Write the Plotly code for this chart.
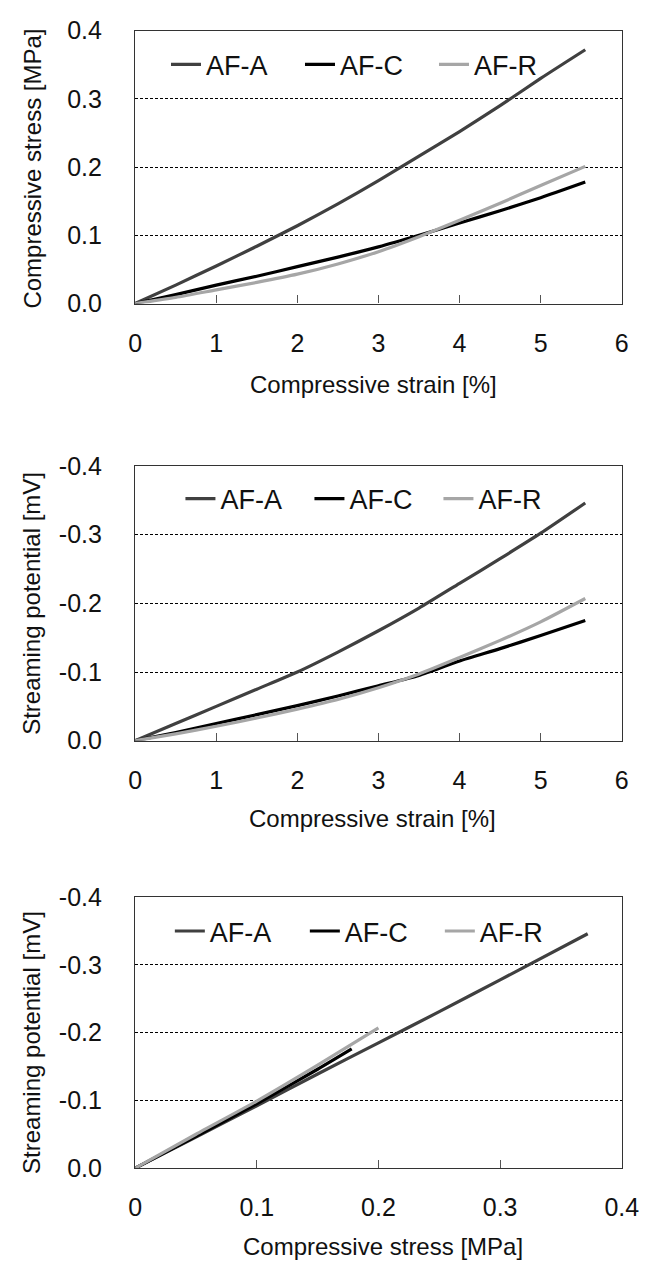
import plotly.graph_objects as go

# ---- data ----
strain = [0, 0.5, 1, 1.5, 2, 2.5, 3, 3.5, 4, 4.5, 5, 5.55]

# panel 1: compressive stress [MPa] vs strain
stress_A = [0, 0.027, 0.055, 0.084, 0.114, 0.146, 0.180, 0.216, 0.252, 0.290, 0.330, 0.372]
stress_C = [0, 0.013, 0.027, 0.040, 0.054, 0.068, 0.083, 0.100, 0.118, 0.136, 0.155, 0.178]
stress_R = [0, 0.009, 0.020, 0.031, 0.043, 0.058, 0.076, 0.098, 0.122, 0.147, 0.173, 0.201]

# panel 2: streaming potential [mV] vs strain
pot_A = [0, -0.025, -0.050, -0.075, -0.100, -0.129, -0.160, -0.193, -0.229, -0.265, -0.302, -0.346]
pot_C = [0, -0.012, -0.025, -0.038, -0.051, -0.065, -0.080, -0.095, -0.116, -0.134, -0.153, -0.175]
pot_R = [0, -0.010, -0.021, -0.033, -0.046, -0.060, -0.077, -0.097, -0.121, -0.146, -0.173, -0.207]

# panel 3: streaming potential [mV] vs compressive stress [MPa]
p3_stress_A = [0, 0.05, 0.10, 0.15, 0.20, 0.25, 0.30, 0.372]
p3_pot_A = [0, -0.046, -0.092, -0.139, -0.185, -0.231, -0.278, -0.346]
p3_stress_C = [0, 0.05, 0.10, 0.15, 0.178]
p3_pot_C = [0, -0.047, -0.095, -0.146, -0.176]
p3_stress_R = [0, 0.05, 0.10, 0.15, 0.200]
p3_pot_R = [0, -0.050, -0.099, -0.152, -0.207]

names = ["AF-A", "AF-C", "AF-R"]
colors = ["#404040", "#000000", "#a6a6a6"]

strain_ticks = [0, 1, 2, 3, 4, 5, 6]
strain_ticktext = ["0", "1", "2", "3", "4", "5", "6"]
stress_ticks = [0, 0.1, 0.2, 0.3, 0.4]
stress_ticktext = ["0.0", "0.1", "0.2", "0.3", "0.4"]
stressx_ticktext = ["0", "0.1", "0.2", "0.3", "0.4"]
pot_ticks = [0, -0.1, -0.2, -0.3, -0.4]
pot_ticktext = ["0.0", "-0.1", "-0.2", "-0.3", "-0.4"]

W, H = 659, 1277
FONT = "Liberation Sans, Arial, sans-serif"

fig = go.Figure()

panels = [
    ([strain, strain, strain], [stress_A, stress_C, stress_R], "x", "y", "legend"),
    ([strain, strain, strain], [pot_A, pot_C, pot_R], "x2", "y2", "legend2"),
    ([p3_stress_A, p3_stress_C, p3_stress_R], [p3_pot_A, p3_pot_C, p3_pot_R], "x3", "y3", "legend3"),
]

for xs, ys, xa, ya, lg in panels:
    for si in range(3):
        fig.add_trace(go.Scatter(
            x=xs[si], y=ys[si], mode="lines", name=names[si],
            line=dict(color=colors[si], width=3.2, shape="spline", smoothing=0.6),
            xaxis=xa, yaxis=ya, legend=lg, showlegend=True,
        ))

xdom = [133 / W, 638 / W]
ydoms = [
    [1 - 296 / H, 1 - 17 / H],
    [1 - 743 / H, 1 - 462 / H],
    [1 - 1180 / H, 1 - 903 / H],
]

common_x = dict(
    showgrid=False, zeroline=False, showline=True, linecolor="#333333", linewidth=1.4,
    mirror=True, ticks="inside", ticklen=8, tickwidth=1, tickcolor="#555555",
    tickfont=dict(family=FONT, size=25, color="#111111"), ticklabelstandoff=17,
)
common_y = dict(
    showgrid=True, gridcolor="#000000", gridwidth=1, griddash="3px,2px",
    zeroline=False, showline=True, linecolor="#333333", linewidth=1.4, mirror=True,
    ticks="", tickfont=dict(family=FONT, size=25, color="#111111"), ticklabelstandoff=27,
)

fig.update_layout(
    xaxis=dict(domain=xdom, anchor="y", range=[0, 6], tickvals=strain_ticks, ticktext=strain_ticktext, **common_x),
    yaxis=dict(domain=ydoms[0], anchor="x", range=[0, 0.4], tickvals=stress_ticks, ticktext=stress_ticktext, **common_y),
    xaxis2=dict(domain=xdom, anchor="y2", range=[0, 6], tickvals=strain_ticks, ticktext=strain_ticktext, **common_x),
    yaxis2=dict(domain=ydoms[1], anchor="x2", range=[0, -0.4], tickvals=pot_ticks, ticktext=pot_ticktext, **common_y),
    xaxis3=dict(domain=xdom, anchor="y3", range=[0, 0.4], tickvals=stress_ticks, ticktext=stressx_ticktext, **common_x),
    yaxis3=dict(domain=ydoms[2], anchor="x3", range=[0, -0.4], tickvals=pot_ticks, ticktext=pot_ticktext, **common_y),
)

leg_common = dict(
    orientation="h", xanchor="left", yanchor="middle", bgcolor="rgba(0,0,0,0)",
    font=dict(family=FONT, size=27, color="#111111"), itemwidth=30, tracegroupgap=0,
)
fig.update_layout(
    legend=dict(x=165 / W, y=1 - 52 / H, entrywidth=89, **leg_common),
    legend2=dict(x=180 / W, y=1 - 496 / H, entrywidth=84, **leg_common),
    legend3=dict(x=169 / W, y=1 - 938 / H, entrywidth=90, **leg_common),
)

titles = [
    ("Compressive strain [%]", 380, 379, "Compressive stress [MPa]", 158),
    ("Compressive strain [%]", 379, 823, "Streaming potential [mV]", 603),
    ("Compressive stress [MPa]", 390, 1260, "Streaming potential [mV]", 1052),
]
for xt, xx, xy, yt, yy in titles:
    fig.add_annotation(text=xt, x=xx / W, y=1 - xy / H, xref="paper", yref="paper",
                       showarrow=False, xanchor="center", yanchor="middle",
                       font=dict(family=FONT, size=24, color="#111111"))
    fig.add_annotation(text=yt, x=26 / W, y=1 - yy / H, xref="paper", yref="paper",
                       showarrow=False, xanchor="center", yanchor="middle", textangle=-90,
                       font=dict(family=FONT, size=24, color="#111111"))

fig.update_layout(
    width=W, height=H, autosize=False,
    margin=dict(l=0, r=0, t=0, b=0),
    paper_bgcolor="white", plot_bgcolor="white",
    font=dict(family=FONT),
)

fig.write_html("out.html")
